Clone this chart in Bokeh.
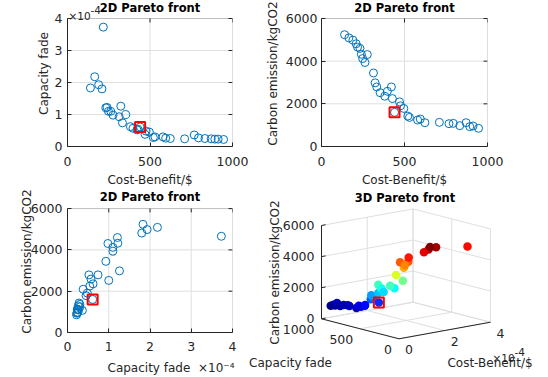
import numpy as np
from bokeh.plotting import figure
from bokeh.layouts import column, row
from bokeh.models import Range1d, FixedTicker, CustomJSTickFormatter, Label, BoxAnnotation
from bokeh.embed import file_html
from bokeh.resources import INLINE

# ---------------- data ----------------
cost_benefit = [139, 165, 189, 209, 217, 232, 240, 248, 262, 276, 313, 323, 333, 353,
                381, 397, 421, 427, 440, 470, 476, 496, 520, 530, 579, 595, 623, 710,
                768, 794, 833, 871, 893, 913, 946]
capacity_fade = [1.83e-4, 2.18e-4, 1.93e-4, 1.80e-4, 3.73e-4, 1.21e-4, 1.22e-4, 1.10e-4,
                 1.10e-4, 0.98e-4, 0.93e-4, 1.26e-4, 0.74e-4, 1.00e-4, 0.62e-4, 0.57e-4,
                 0.52e-4, 0.54e-4, 0.61e-4, 0.38e-4, 0.48e-4, 0.45e-4, 0.28e-4, 0.30e-4,
                 0.30e-4, 0.26e-4, 0.25e-4, 0.24e-4, 0.36e-4, 0.27e-4, 0.25e-4, 0.24e-4,
                 0.23e-4, 0.23e-4, 0.22e-4]
carbon_emission = [5240, 5092, 4985, 4815, 4660, 4600, 4323, 4123, 3938, 4310, 3446, 2985,
                   2791, 2523, 2357, 2589, 2791, 2246, 1600, 2093, 1908, 1783, 1426, 1364,
                   1240, 1287, 1116, 1132, 1070, 1085, 977, 1116, 930, 961, 853]
selected_index = 18

cost_ticks = [0, 500, 1000]
fade_ticks = [0, 1e-4, 2e-4, 3e-4, 4e-4]
fade_ticks_3d = [0, 2e-4, 4e-4]
carbon_ticks = [0, 2000, 4000, 6000]

# ---------------- style ----------------
FONT = "DejaVu Sans"
TXT = "#262626"
BLUE = "#0072BD"
GRID = "#DFDFDF"
TICK_FS = "12.5px"
LAB_FS = "12px"
TITLE_FS = "11.5px"
EXP_FS = "10.5px"
NB = "\u00a0"
TICK_LEN = 4

fade_fmt = "return (tick*1e4).toFixed(0);"

sel_cost = [cost_benefit[selected_index]]
sel_fade = [capacity_fade[selected_index]]
sel_carbon = [carbon_emission[selected_index]]


def no_align(p):
    if "frame_align" in p.properties():
        p.frame_align = False


def make_2d(w, h, bl, br, box_top, box_bottom, xr, ytop, xt, yt, xlab, ylab, title,
            xfade, yfade, xls, xas, yls, yas):
    # frame runs from the canvas top down to box_bottom; the axes box ends at box_top
    yend = ytop * box_bottom / (box_bottom - box_top)
    p = figure(width=w, height=h, x_range=Range1d(*xr), y_range=Range1d(0, yend),
               output_backend="svg", toolbar_location=None, title=None,
               min_border_left=bl, min_border_right=br, min_border_top=0,
               min_border_bottom=h - box_bottom)
    no_align(p)
    p.xaxis.ticker = FixedTicker(ticks=xt)
    p.yaxis.ticker = FixedTicker(ticks=yt)
    p.yaxis.bounds = (0, ytop)
    if xfade:
        p.xaxis.formatter = CustomJSTickFormatter(code=fade_fmt)
    if yfade:
        p.yaxis.formatter = CustomJSTickFormatter(code=fade_fmt)
    p.xaxis.axis_label = xlab
    p.yaxis.axis_label = ylab
    for ax in (p.xaxis[0], p.yaxis[0]):
        ax.major_tick_in = TICK_LEN
        ax.major_tick_out = 0
        ax.minor_tick_in = 0
        ax.minor_tick_out = 0
        ax.axis_line_color = TXT
        ax.major_tick_line_color = TXT
        ax.major_label_text_font = FONT
        ax.major_label_text_font_size = TICK_FS
        ax.major_label_text_color = TXT
        ax.axis_label_text_font = FONT
        ax.axis_label_text_font_size = LAB_FS
        ax.axis_label_text_color = TXT
        ax.axis_label_text_font_style = "normal"
    p.xaxis.major_label_standoff = xls
    p.xaxis.axis_label_standoff = xas
    p.yaxis.major_label_standoff = yls
    p.yaxis.axis_label_standoff = yas
    p.grid.visible = False
    p.outline_line_color = None
    # grid lines inside the axes box
    vx = [t for t in xt if xr[0] < t < xr[1]]
    hy = [t for t in yt if 0 < t < ytop]
    p.segment(x0=vx, y0=[0] * len(vx), x1=vx, y1=[ytop] * len(vx), line_color=GRID, line_width=1)
    p.segment(x0=[xr[0]] * len(hy), y0=hy, x1=[xr[1]] * len(hy), y1=hy, line_color=GRID, line_width=1)
    # mirrored inward ticks on the top and right edges of the box
    dy = TICK_LEN * yend / box_bottom
    dx = TICK_LEN * (xr[1] - xr[0]) / (w - bl - br)
    p.segment(x0=xt, y0=[ytop] * len(xt), x1=xt, y1=[ytop - dy] * len(xt), line_color=TXT, line_width=1)
    p.segment(x0=[xr[1]] * len(yt), y0=yt, x1=[xr[1] - dx] * len(yt), y1=yt, line_color=TXT, line_width=1)
    # axes box
    p.add_layout(BoxAnnotation(left=xr[0], right=xr[1], bottom=0, top=ytop,
                               fill_color=None, fill_alpha=0, line_color=TXT, line_width=1))
    # title
    p.add_layout(Label(x=(xr[0] + xr[1]) / 2, y=ytop, y_offset=box_top - 7, text=title,
                       text_align="center", text_baseline="middle", text_font=FONT,
                       text_font_size=TITLE_FS, text_font_style="bold", text_color="black"))
    return p


# -------- panel 1: cost vs capacity fade --------
p1 = make_2d(262, 190, 67, 30, 18, 146, (0, 1000), 4e-4, cost_ticks, fade_ticks,
             "Cost-Benefit/$", "Capacity fade", "2D Pareto front", False, True,
             10, 4, 5, 1)
p1.scatter(cost_benefit, capacity_fade, marker="circle", size=8, fill_color=None,
           line_color=BLUE, line_width=1)
p1.scatter(sel_cost, sel_fade, marker="square", size=10, fill_color=None,
           line_color="red", line_width=2)
p1.add_layout(Label(x=0, y=4e-4, x_offset=1, y_offset=3, text="\u00d710",
                    text_font=FONT, text_font_size=EXP_FS, text_color=TXT,
                    text_baseline="alphabetic"))
p1.add_layout(Label(x=0, y=4e-4, x_offset=23, y_offset=9, text="-4",
                    text_font=FONT, text_font_size=EXP_FS, text_color=TXT,
                    text_baseline="alphabetic"))

# -------- panel 2: cost vs carbon --------
p2 = make_2d(286, 190, 58, 61, 18, 146, (0, 1000), 6000, cost_ticks, carbon_ticks,
             "Cost-Benefit/$", "Carbon emission/kgCO2", "2D Pareto front", False, False,
             10, 4, 4, 3)
p2.scatter(cost_benefit, carbon_emission, marker="circle", size=8, fill_color=None,
           line_color=BLUE, line_width=1)
p2.scatter(sel_cost, sel_carbon, marker="square", size=10, fill_color=None,
           line_color="red", line_width=2)

# -------- panel 3: capacity fade vs carbon --------
p3_xlabel = NB * 11 + "Capacity fade" + NB * 2 + "\u00d710\u207b\u2074"
p3 = make_2d(246, 187, 67, 14, 19, 149, (0, 4e-4), 6000, fade_ticks, carbon_ticks,
             p3_xlabel, "Carbon emission/kgCO2", "2D Pareto front", True, False,
             9, 7, 5, -6)
p3.scatter(capacity_fade, carbon_emission, marker="circle", size=8, fill_color=None,
           line_color=BLUE, line_width=1)
p3.scatter(sel_fade, sel_carbon, marker="square", size=10, fill_color=None,
           line_color="red", line_width=2)

# -------- panel 4: 3D Pareto front (projected) --------
W4, H4 = 302, 187
p4 = figure(width=W4, height=H4, x_range=Range1d(0, W4), y_range=Range1d(H4, 0),
            output_backend="svg", toolbar_location=None, min_border=0,
            min_border_left=0, min_border_right=0, min_border_top=0, min_border_bottom=0,
            x_axis_location=None, y_axis_location=None, title=None)
no_align(p4)
p4.grid.visible = False
p4.outline_line_color = None

# screen vectors of each axis' full range in the 3D view
O = np.array([152.5, 148.3])
XV = np.array([91.5, -16.6])    # capacity fade 0 -> 4e-4
YV = np.array([-77.5, -20.0])   # cost 0 -> 1000
ZV = np.array([0.0, -93.3])     # carbon 0 -> 6000
FMAX, CMAX, ZMAX = 4e-4, 1000.0, 6000.0


def proj(f, c, z):
    f = np.asarray(f, float) / FMAX
    c = np.asarray(c, float) / CMAX
    z = np.asarray(z, float) / ZMAX
    return (O[0] + f * XV[0] + c * YV[0] + z * ZV[0],
            O[1] + f * XV[1] + c * YV[1] + z * ZV[1])


gx, gy = [], []


def seg(a, b, xs=gx, ys=gy):
    pa, pb = proj(*a), proj(*b)
    xs.append([float(pa[0]), float(pb[0])])
    ys.append([float(pa[1]), float(pb[1])])


for f in fade_ticks_3d:
    seg((f, CMAX, 0), (f, CMAX, ZMAX))
for z in carbon_ticks:
    seg((0, CMAX, z), (FMAX, CMAX, z))
for c in cost_ticks:
    seg((FMAX, c, 0), (FMAX, c, ZMAX))
for z in carbon_ticks:
    seg((FMAX, 0, z), (FMAX, CMAX, z))
for f in fade_ticks_3d:
    seg((f, 0, 0), (f, CMAX, 0))
for c in cost_ticks:
    seg((0, c, 0), (FMAX, c, 0))
p4.multi_line(gx, gy, line_color=GRID, line_width=1)

ax_x, ax_y = [], []
seg((0, CMAX, 0), (0, CMAX, ZMAX), ax_x, ax_y)
seg((0, 0, 0), (0, CMAX, 0), ax_x, ax_y)
seg((0, 0, 0), (FMAX, 0, 0), ax_x, ax_y)
for z in carbon_ticks:
    seg((0, CMAX, z), (FMAX * 0.045, CMAX, z), ax_x, ax_y)
p4.multi_line(ax_x, ax_y, line_color=TXT, line_width=1)

cval = np.array(carbon_emission, float)
t = (cval - cval.min()) / (cval.max() - cval.min())
rr = np.clip(1.5 - np.abs(4 * t - 3), 0, 1)
gg = np.clip(1.5 - np.abs(4 * t - 2), 0, 1)
bb = np.clip(1.5 - np.abs(4 * t - 1), 0, 1)
colors = ["#%02x%02x%02x" % (int(round(255 * a)), int(round(255 * b)), int(round(255 * c)))
          for a, b, c in zip(rr, gg, bb)]
px, py = proj(capacity_fade, cost_benefit, carbon_emission)
_, floor_y = proj(capacity_fade, cost_benefit, np.zeros(len(cost_benefit)))
order = np.argsort(floor_y)
p4.scatter(px[order], py[order], marker="circle", size=8.5,
           fill_color=[colors[i] for i in order], line_color=None)
sx, sy = proj(sel_fade, sel_cost, sel_carbon)
p4.scatter(sx, sy, marker="square", size=10, fill_color=None, line_color="red", line_width=2)


def lab(x, y, text, align="center", size=TICK_FS, color=TXT, style="normal", angle=0.0):
    p4.add_layout(Label(x=float(x), y=float(y), text=text, text_align=align,
                        text_baseline="middle", text_font=FONT, text_font_size=size,
                        text_color=color, text_font_style=style, angle=angle))


for z in carbon_ticks:
    x0, y0 = proj(0, CMAX, z)
    lab(x0 - 7, y0, str(z), align="right")
for c in cost_ticks:
    x0, y0 = proj(0, c, 0)
    lab(x0 - 7, y0 + 11, str(c), align="right")
for f in fade_ticks_3d:
    x0, y0 = proj(f, 0, 0)
    lab(x0 + 6, y0 + 11, "%d" % round(f * 1e4), align="left")

lab(158.5, 7, "3D Pareto front", size=TITLE_FS, color="black", style="bold")
lab(44, 172, "Capacity fade", size=LAB_FS)
lab(243.5, 172.5, "Cost-Benefit/$", size=LAB_FS)
lab(28, 82, "Carbon emission/kgCO2", size=LAB_FS, angle=np.pi / 2)
lab(246, 167, "\u00d710", align="left", size=EXP_FS)
lab(268, 161, "-4", align="left", size=EXP_FS)

layout = column(row(p1, p2), row(p3, p4))
open("out.html", "w").write(file_html(layout, INLINE))
